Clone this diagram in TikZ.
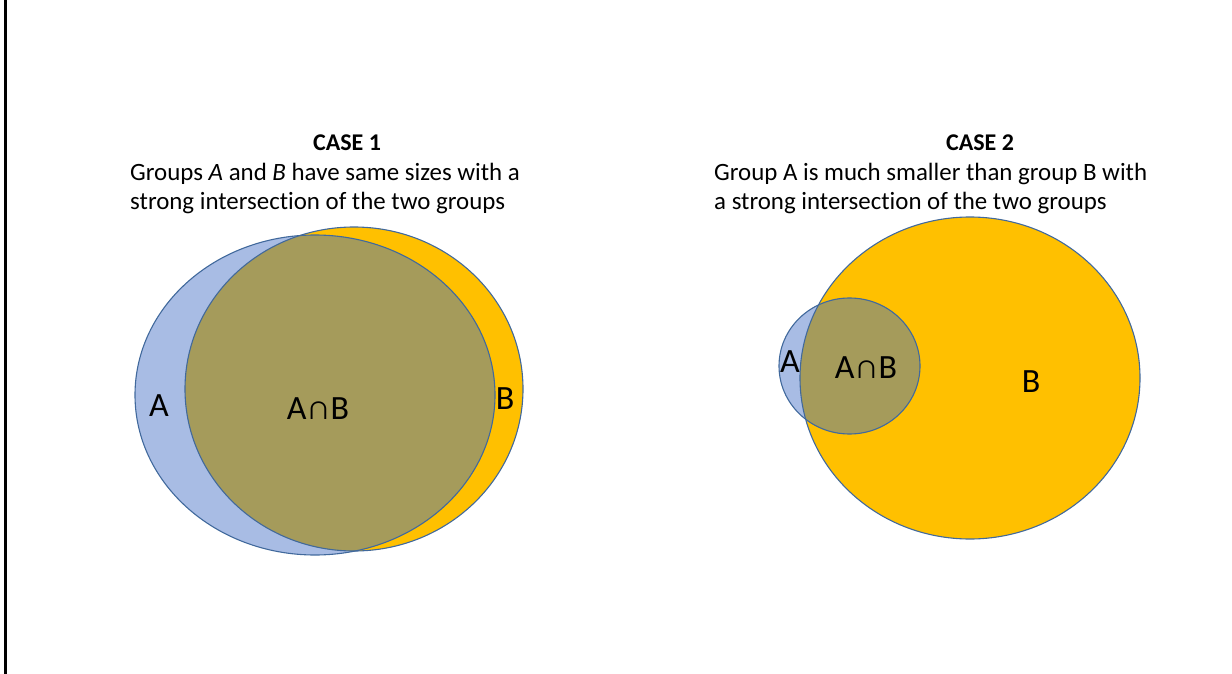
\documentclass[tikz,border=0pt]{standalone}
\usepackage{fontspec}
\setmainfont{Carlito}[Ligatures={NoCommon}]
\definecolor{bluefill}{RGB}{168,188,228}
\definecolor{yel}{RGB}{255,192,0}
\definecolor{olivefill}{RGB}{165,155,91}
\definecolor{outl}{RGB}{65,105,156}
\begin{document}
\begin{tikzpicture}[x=1pt,y=-1pt,
  venn/.style={draw=outl, line width=1.1pt},
  title/.style={font=\fontsize{24}{29}\selectfont\bfseries, inner sep=0pt, anchor=base},
  desc/.style={font=\fontsize{24.9}{29}\selectfont, align=left, inner sep=0pt, anchor=base west},
  lab/.style={font=\fontsize{34}{38}\selectfont, inner sep=0pt, anchor=base}]
\useasboundingbox (0,0) rectangle (1232,674);
\draw[line width=2.2pt] (5.5,0) -- (5.5,674);

% ---------- CASE 1 ----------
\fill[bluefill] (315,395) ellipse [x radius=180, y radius=160];
\fill[yel] (354,389) ellipse [x radius=169, y radius=162];
\begin{scope}
  \clip (315,395) ellipse [x radius=180, y radius=160];
  \fill[olivefill] (354,389) ellipse [x radius=169, y radius=162];
\end{scope}
\draw[venn] (315,395) ellipse [x radius=180, y radius=160];
\draw[venn] (354,389) ellipse [x radius=169, y radius=162];

\node[title] (t1) at (347,150) {CASE 1};
\node[desc] (d1a) at (130,180) {Groups \textit{A} and \textit{B} have same sizes with a};
\node[desc] (d1b) at (130,209) {strong intersection of the two groups};
\node[lab] (a1) at (159,416) {A};
\node[lab] (ab1) at (318,419) {A∩B};
\node[lab] (b1) at (505,409) {B};

% ---------- CASE 2 ----------
\fill[yel] (970,378) ellipse [x radius=170, y radius=161];
\fill[bluefill] (849.5,366) ellipse [x radius=70.5, y radius=68];
\begin{scope}
  \clip (970,378) ellipse [x radius=170, y radius=161];
  \fill[olivefill] (849.5,366) ellipse [x radius=70.5, y radius=68];
\end{scope}
\draw[venn] (970,378) ellipse [x radius=170, y radius=161];
\draw[venn] (849.5,366) ellipse [x radius=70.5, y radius=68];

\node[title] (t2) at (980,150) {CASE 2};
\node[desc] (d2a) at (714,180) {Group A is much smaller than group B with};
\node[desc] (d2b) at (714,209) {a strong intersection of the two groups};
\node[lab] (a2) at (790,372) {A};
\node[lab] (ab2) at (866,378) {A∩B};
\node[lab] (b2) at (1031,392) {B};
\end{tikzpicture}
\end{document}
